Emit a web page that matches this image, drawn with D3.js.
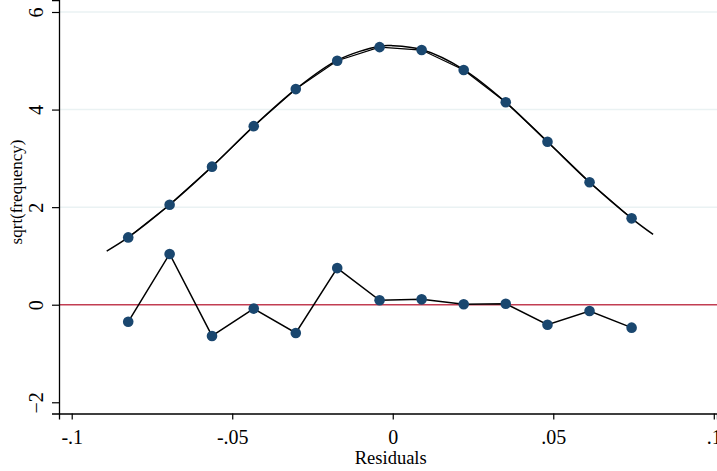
<!DOCTYPE html>
<html>
<head>
<meta charset="utf-8">
<script src="https://cdn.jsdelivr.net/npm/d3@7"></script>
<style>
  body { margin: 0; background: #fff; }
  svg text { font-family: "Liberation Serif", "Times New Roman", serif !important; fill: #000; }
</style>
</head>
<body>
<div id="chart"></div>
<script>
// hanging rootogram: sqrt(expected) at bin centres + residuals hanging below
const binX = [-0.0824, -0.0695, -0.0563, -0.0433, -0.0302, -0.0173, -0.0041,
               0.0090,  0.0221,  0.0352,  0.0482,  0.0613,  0.0744];
const expected = [1.38, 2.05, 2.83, 3.66, 4.42, 5.00, 5.28, 5.22, 4.81, 4.15, 3.34, 2.51, 1.77];
const residual = [-0.35, 1.04, -0.64, -0.08, -0.58, 0.75, 0.09, 0.11, 0.01, 0.02, -0.41, -0.13, -0.47];

// fitted density curve
const curveX = [-0.0891, -0.0824, -0.0695, -0.0563, -0.0433, -0.0302, -0.0173, -0.0041,
                 0.0000, 0.0090, 0.0221, 0.0352, 0.0482, 0.0613, 0.0744, 0.0811];
const curveY = [1.10, 1.38, 2.05, 2.83, 3.66, 4.42, 5.01, 5.30, 5.31, 5.23, 4.82, 4.15,
                3.34, 2.51, 1.77, 1.44];

const xTicks = [-0.1, -0.05, 0, 0.05, 0.1];
const xTickLabels = ['-.1', '-.05', '0', '.05', '.1'];
const yTicks = [-2, 0, 2, 4, 6];
const gridTicks = [2, 4, 6];

const width = 717;
const height = 471;
const margin = { top: 0, right: 0, bottom: 57.5, left: 59 };
const serif = '"Liberation Serif", "Times New Roman", serif';

const svg = d3.select('#chart')
  .append('svg')
  .attr('width', width)
  .attr('height', height);

const x = d3.scaleLinear()
  .domain([-0.10396, 0.1010])
  .range([margin.left, width - margin.right]);

const y = d3.scaleLinear()
  .domain([-2.230, 6.246])
  .range([height - margin.bottom, margin.top]);

// gridlines
svg.append('g')
  .selectAll('line')
  .data(gridTicks)
  .enter().append('line')
  .attr('x1', margin.left)
  .attr('x2', width - margin.right)
  .attr('y1', d => y(d))
  .attr('y2', d => y(d))
  .attr('stroke', '#eaf2f3')
  .attr('stroke-width', 1.5);

// zero line
svg.append('line')
  .attr('x1', margin.left)
  .attr('x2', width - margin.right)
  .attr('y1', y(0))
  .attr('y2', y(0))
  .attr('stroke', '#c23d52')
  .attr('stroke-width', 1.6);

// axes
const xAxis = svg.append('g')
  .attr('transform', `translate(0,${height - margin.bottom})`)
  .call(d3.axisBottom(x).tickValues(xTicks).tickSize(6).tickPadding(6)
    .tickFormat((d, i) => xTickLabels[i]));

const yAxis = svg.append('g')
  .attr('transform', `translate(${margin.left},0)`)
  .call(d3.axisLeft(y).tickValues(yTicks).tickSize(7).tickFormat(d3.format('d')));

[xAxis, yAxis].forEach(g => {
  g.attr('font-family', serif).attr('font-size', 20);
  g.select('.domain').attr('stroke', '#000').attr('stroke-width', 1.3);
  g.selectAll('.tick line').attr('stroke', '#000').attr('stroke-width', 1.2);
  g.selectAll('.tick text').attr('fill', '#000');
});

xAxis.selectAll('.tick text').attr('dy', '0.9em');

// rotate y tick labels vertical
yAxis.selectAll('.tick text')
  .attr('x', null)
  .attr('dy', null)
  .attr('text-anchor', 'middle')
  .attr('transform', 'translate(-16,0) rotate(-90)')
  .attr('y', 0);

// axis titles
svg.append('text')
  .attr('x', x(0) - 2)
  .attr('y', 464)
  .attr('text-anchor', 'middle')
  .attr('font-family', serif)
  .attr('font-size', 18.5)
  .text('Residuals');

svg.append('text')
  .attr('transform', `translate(22,${192}) rotate(-90)`)
  .attr('text-anchor', 'middle')
  .attr('font-family', serif)
  .attr('font-size', 17)
  .text('sqrt(frequency)');

const curvePts = curveX.map((d, i) => [d, curveY[i]]);
const expPts = binX.map((d, i) => [d, expected[i]]);
const resPts = binX.map((d, i) => [d, residual[i]]);

const smooth = d3.line()
  .x(d => x(d[0]))
  .y(d => y(d[1]))
  .curve(d3.curveCatmullRom);

const straight = d3.line()
  .x(d => x(d[0]))
  .y(d => y(d[1]));

svg.append('path')
  .attr('d', smooth(curvePts))
  .attr('fill', 'none')
  .attr('stroke', '#000')
  .attr('stroke-width', 1.5);

svg.append('path')
  .attr('d', straight(expPts))
  .attr('fill', 'none')
  .attr('stroke', '#000')
  .attr('stroke-width', 1.2);

svg.append('path')
  .attr('d', straight(resPts))
  .attr('fill', 'none')
  .attr('stroke', '#000')
  .attr('stroke-width', 1.5);

svg.append('g')
  .selectAll('circle')
  .data(expPts.concat(resPts))
  .enter().append('circle')
  .attr('cx', d => x(d[0]))
  .attr('cy', d => y(d[1]))
  .attr('r', 5.3)
  .attr('fill', '#1a476f');
</script>
</body>
</html>
